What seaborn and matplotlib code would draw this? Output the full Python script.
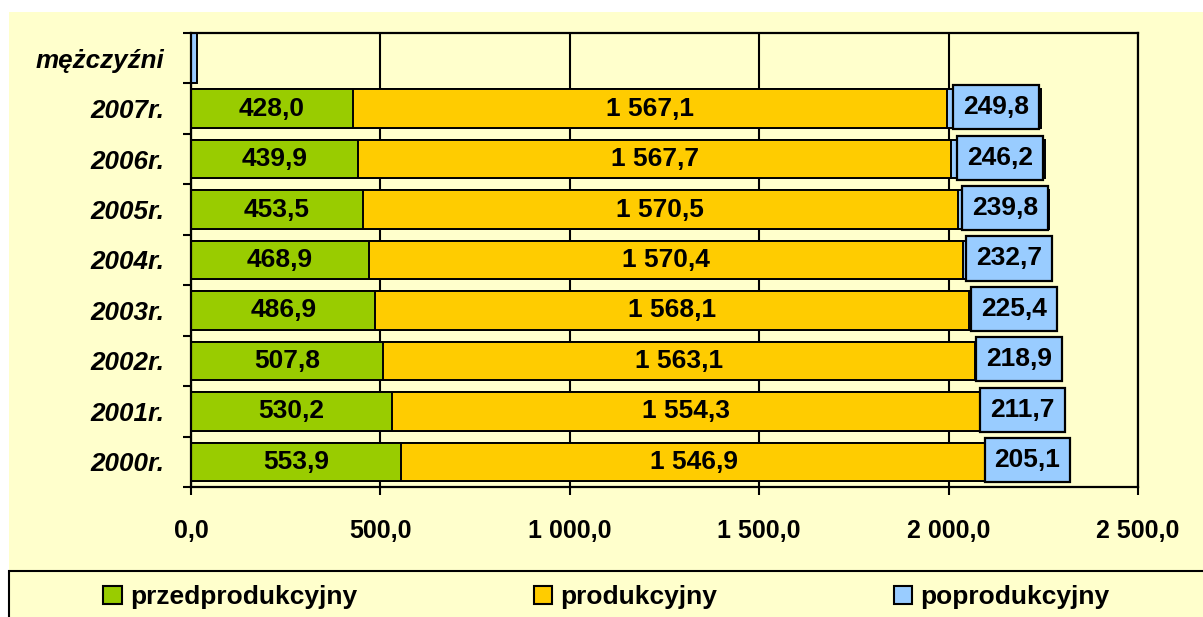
import numpy as np
import pandas as pd
import matplotlib.pyplot as plt
import seaborn as sns
from matplotlib.patches import Rectangle, Patch

# dane: ludność wg ekonomicznych grup wieku (tys.)
lata = ['2007r.', '2006r.', '2005r.', '2004r.', '2003r.', '2002r.', '2001r.', '2000r.']
kategorie = ['mężczyźni'] + lata
przed = [428.0, 439.9, 453.5, 468.9, 486.9, 507.8, 530.2, 553.9]
prod = [1567.1, 1567.7, 1570.5, 1570.4, 1568.1, 1563.1, 1554.3, 1546.9]
post = [249.8, 246.2, 239.8, 232.7, 225.4, 218.9, 211.7, 205.1]
mezczyzni_post = [16.0]
ticki_x = [0, 500, 1000, 1500, 2000, 2500]
nazwy = ['przedprodukcyjny', 'produkcyjny', 'poprodukcyjny']

zielony = '#99CC00'
pomarancz = '#FFCC00'
niebieski = '#99CCFF'
tlo = '#FFFFCC'


def fmt(v):
    return f'{v:,.1f}'.replace(',', ' ').replace('.', ',')


sns.set_style('white')
plt.rcParams['font.family'] = ['Liberation Sans', 'DejaVu Sans']
plt.rcParams['font.weight'] = 'bold'
plt.rcParams['text.color'] = 'black'
plt.rcParams['xtick.color'] = 'black'
plt.rcParams['ytick.color'] = 'black'
plt.rcParams['xtick.labelcolor'] = 'black'
plt.rcParams['ytick.labelcolor'] = 'black'

df = pd.DataFrame({'rok': lata, 'przed': przed, 'prod': prod, 'post': post})
df['s1'] = df['przed']
df['s2'] = df['przed'] + df['prod']
df['s3'] = df['s2'] + df['post']

W, H = 1203, 617
fig = plt.figure(figsize=(W / 100, H / 100), dpi=100)
fig.patch.set_facecolor('white')
fig.patches.append(Rectangle((9 / W, 0), 1, 1 - 12 / H, transform=fig.transFigure,
                             facecolor=tlo, edgecolor='none', zorder=-10))
fig.patches.append(Rectangle((9 / W, -0.2), 1.2, 0.2 + 1 - 571 / H, transform=fig.transFigure,
                             facecolor='none', edgecolor='black', linewidth=1.5, zorder=-5))

ax = fig.add_axes([191 / W, 1 - 487 / H, (1138 - 191) / W, (487 - 33) / H])
ax.set_facecolor(tlo)
ax.set_axisbelow(True)

# słupki skumulowane (od sumy do najmniejszej części)
for kol, kolor in [('s3', niebieski), ('s2', pomarancz), ('s1', zielony)]:
    sns.barplot(data=df, x=kol, y='rok', order=kategorie, color=kolor, saturation=1,
                edgecolor='black', linewidth=1.4, width=0.76, ax=ax)
sns.barplot(x=mezczyzni_post, y=['mężczyźni'], order=kategorie, color=niebieski, saturation=1,
            edgecolor='black', linewidth=1.4, width=1.0, ax=ax)

# etykiety danych
for i, r in df.iterrows():
    y = kategorie.index(r['rok'])
    ax.text(r['przed'] / 2, y, fmt(r['przed']), ha='center', va='center',
            fontsize=19, fontweight='bold')
    ax.text(r['przed'] + r['prod'] / 2, y, fmt(r['prod']), ha='center', va='center',
            fontsize=19, fontweight='bold')
    ax.text(r['s2'] + r['post'] / 2 + 5, y - 0.03, fmt(r['post']), ha='center', va='center',
            fontsize=19, fontweight='bold',
            bbox=dict(boxstyle='square,pad=0.38', fc=niebieski, ec='black', lw=1.6))

ax.set_xlim(0, 2500)
ax.set_ylim(len(kategorie) - 0.5, -0.5)
ax.set_xticks(ticki_x)
ax.set_xticklabels([fmt(t) for t in ticki_x], fontsize=18, fontweight='bold')
ax.set_yticks(range(len(kategorie)))
ax.set_yticklabels(kategorie, fontsize=18.7, fontweight='bold', style='italic')
ax.set_yticks(np.arange(-0.5, len(kategorie), 1), minor=True)
ax.tick_params(axis='y', which='major', length=0, pad=19)
ax.tick_params(axis='y', which='minor', direction='out', length=6, width=1.5, color='black', left=True)
ax.tick_params(axis='x', which='major', direction='out', length=6, width=1.5, color='black',
               bottom=True, pad=17)
ax.xaxis.grid(True, color='black', linewidth=1.5)
ax.yaxis.grid(False)
for s in ax.spines.values():
    s.set_color('black')
    s.set_linewidth(1.6)
ax.set_xlabel('')
ax.set_ylabel('')

uchwyty = [Patch(facecolor=c, edgecolor='black', linewidth=1.5) for c in [zielony, pomarancz, niebieski]]
fig.legend(uchwyty, nazwy, loc='center', bbox_to_anchor=(0.504, 1 - 597 / H), ncol=3,
           frameon=False, prop={'size': 19, 'weight': 'bold'}, handlelength=0.7,
           handleheight=0.7, handletextpad=0.3, columnspacing=6.7)

fig.savefig('out.png', dpi=100, facecolor=fig.get_facecolor())
